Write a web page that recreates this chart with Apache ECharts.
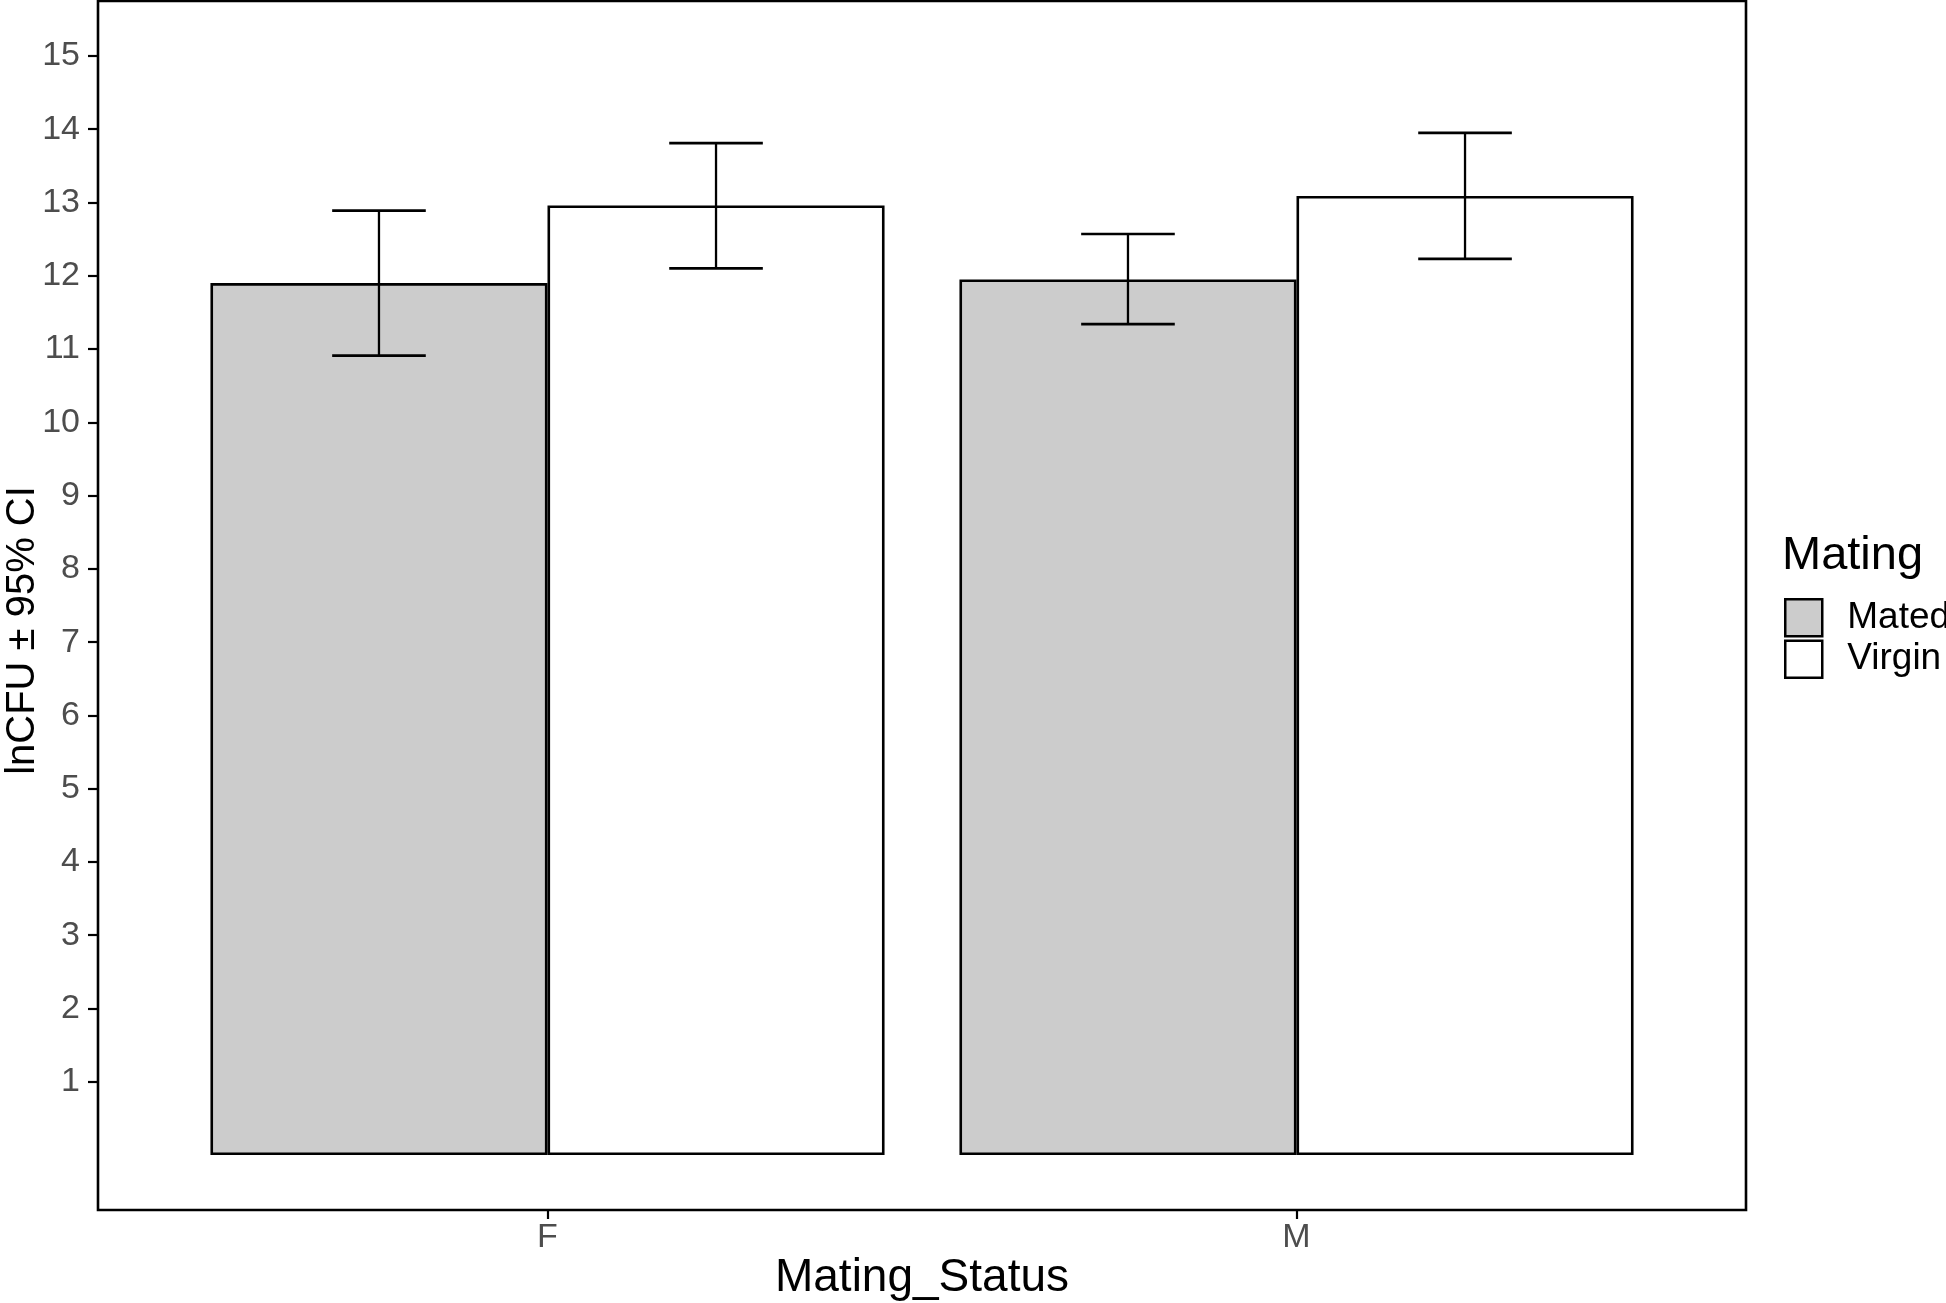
<!DOCTYPE html>
<html>
<head>
<meta charset="utf-8">
<script src="https://cdn.jsdelivr.net/npm/echarts@6/dist/echarts.min.js"></script>
<style>
html,body{margin:0;padding:0;background:#fff;}
#chart{width:1946px;height:1303px;}
</style>
</head>
<body>
<div id="chart"></div>
<script>
// ---- data ----
const categories = ['F', 'M'];
const groups = ['Mated', 'Virgin'];
const matedMean = [11.90, 11.95];
const matedLow = [10.91, 11.34];
const matedHigh = [12.89, 12.57];
const virginMean = [12.96, 13.09];
const virginLow = [12.10, 12.23];
const virginHigh = [13.81, 13.95];
const yTicks = [1, 2, 3, 4, 5, 6, 7, 8, 9, 10, 11, 12, 13, 14, 15];

const FONT = '"Liberation Sans", Arial, Helvetica, sans-serif';
const chart = echarts.init(document.getElementById('chart'), null, {renderer: 'canvas'});

function errData(low, high) {
  return categories.map((c, i) => [i, low[i], high[i]]);
}
function errSeries(name, low, high, shift) {
  return {
    type: 'custom',
    name: name + ' CI',
    z: 10,
    silent: true,
    data: errData(low, high),
    encode: {x: 0, y: [1, 2]},
    renderItem: function (params, api) {
      const band = api.size([1, 0])[0];
      const pLow = api.coord([api.value(0), api.value(1)]);
      const pHigh = api.coord([api.value(0), api.value(2)]);
      const x = pLow[0] + shift * band;
      const cap = 0.0625 * band;
      const stV = {stroke: '#000', lineWidth: 2.3};
      const stC = {stroke: '#000', lineWidth: 2.7};
      return {
        type: 'group',
        children: [
          {type: 'line', shape: {x1: x, y1: pLow[1], x2: x, y2: pHigh[1]}, style: stV},
          {type: 'line', shape: {x1: x - cap, y1: pLow[1], x2: x + cap, y2: pLow[1]}, style: stC},
          {type: 'line', shape: {x1: x - cap, y1: pHigh[1], x2: x + cap, y2: pHigh[1]}, style: stC}
        ]
      };
    }
  };
}

const option = {
  backgroundColor: '#fff',
  animation: false,
  textStyle: {fontFamily: FONT},
  title: {
    text: 'Mating',
    left: 1782,
    top: 533,
    padding: 0,
    textStyle: {fontFamily: FONT, fontSize: 47, fontWeight: 'normal', color: '#000'}
  },
  legend: {
    data: groups,
    orient: 'vertical',
    left: 1784,
    top: 598,
    padding: 0,
    itemWidth: 37,
    itemHeight: 37,
    itemGap: 2,
    icon: 'rect',
    selectedMode: false,
    itemStyle: {borderColor: '#000', borderWidth: 2.5},
    textStyle: {fontFamily: FONT, fontSize: 37, color: '#000', padding: [0, 0, 0, 20]}
  },
  grid: {left: 173, right: 275, top: 1, bottom: 93, containLabel: false, outerBoundsMode: 'none'},
  xAxis: {
    type: 'category',
    data: categories,
    name: 'Mating_Status',
    nameLocation: 'middle',
    nameGap: 45,
    nameMoveOverlap: false,
    nameTextStyle: {fontFamily: FONT, fontSize: 46, color: '#000'},
    axisLine: {show: false, onZero: false},
    axisTick: {show: true, alignWithLabel: true, length: 9, lineStyle: {color: '#000', width: 2.2}},
    axisLabel: {margin: 11, fontFamily: FONT, fontSize: 34, color: '#4D4D4D'},
    splitLine: {show: false}
  },
  yAxis: {
    type: 'value',
    min: -0.75,
    max: 15.75,
    offset: 75,
    name: 'lnCFU ± 95% CI',
    nameLocation: 'middle',
    nameGap: 55,
    nameRotate: 90,
    nameMoveOverlap: false,
    nameTextStyle: {fontFamily: FONT, fontSize: 40, color: '#000', padding: [0, 50, 0, 0]},
    axisLine: {show: false},
    axisTick: {show: true, length: 10, customValues: yTicks, lineStyle: {color: '#000', width: 2.2}},
    axisLabel: {margin: 18, fontFamily: FONT, fontSize: 34, color: '#4D4D4D', customValues: yTicks},
    splitLine: {show: false}
  },
  graphic: [{
    type: 'rect',
    z: 100,
    silent: true,
    shape: {x: 98, y: 1, width: 1648, height: 1209},
    style: {fill: 'none', stroke: '#000', lineWidth: 2.6}
  }],
  series: [
    {
      name: 'Mated', type: 'bar', data: matedMean,
      barGap: '0%', barCategoryGap: '10%',
      itemStyle: {color: '#CCCCCC', borderColor: '#000', borderWidth: 2.6}
    },
    {
      name: 'Virgin', type: 'bar', data: virginMean,
      barGap: '0%', barCategoryGap: '10%',
      itemStyle: {color: '#FFFFFF', borderColor: '#000', borderWidth: 2.6}
    },
    errSeries('Mated', matedLow, matedHigh, -0.225),
    errSeries('Virgin', virginLow, virginHigh, 0.225)
  ]
};
chart.setOption(option);
</script>
</body>
</html>
